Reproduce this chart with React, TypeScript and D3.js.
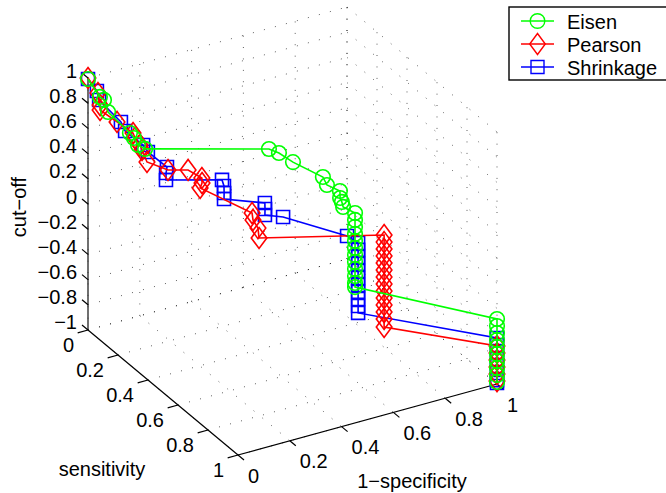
import React from "react";
import * as d3 from "d3";

const width = 666;
const height = 493;
const font = "'Liberation Sans', Arial, sans-serif";

const xTicks = [0, 0.2, 0.4, 0.6, 0.8, 1];
const yTicks = [0, 0.2, 0.4, 0.6, 0.8, 1];
const zTicks = [-1, -0.8, -0.6, -0.4, -0.2, 0, 0.2, 0.4, 0.6, 0.8, 1];
const zLabels = ["\u22121", "\u22120.8", "\u22120.6", "\u22120.4", "\u22120.2", "0", "0.2", "0.4", "0.6", "0.8", "1"];

const eisenX = [0, 0.017, 0.027, 0.031, 0.046, 0.05, 0.054, 0.064, 0.467, 0.494, 0.525, 0.571, 0.575, 0.602, 0.597, 0.598, 0.597,
  0.614, 0.614, 0.614, 0.614, 0.614, 0.614, 0.614, 0.614, 0.614, 0.614, 0.614, 0.614,
  1, 1, 1, 1, 1, 1, 1, 1, 1, 1];
const eisenY = [0, 0.05, 0.06, 0.08, 0.2, 0.22, 0.24, 0.27, 0.4, 0.42, 0.46, 0.58, 0.6, 0.64, 0.65, 0.66, 0.67,
  0.72, 0.72, 0.72, 0.72, 0.72, 0.72, 0.72, 0.72, 0.72, 0.72, 0.72, 0.72,
  1, 1, 1, 1, 1, 1, 1, 1, 1, 1];
const eisenZ = [0.992, 0.89, 0.87, 0.792, 0.736, 0.714, 0.676, 0.669, 0.57, 0.543, 0.493, 0.468, 0.422, 0.399, 0.356, 0.334, 0.305,
  0.297, 0.242, 0.186, 0.131, 0.075, 0.019, -0.037, -0.092, -0.148, -0.204, -0.258, -0.291,
  -0.484, -0.54, -0.596, -0.651, -0.706, -0.762, -0.817, -0.873, -0.929, -0.984];

const pearsonX = [0, 0.021, 0.012, 0.006, 0.031, 0.058, 0.054, 0.062, 0.058, 0.054, 0.112, 0.178, 0.208, 0.197, 0.178, 0.286, 0.278, 0.274, 0.255,
  0.651, 0.651, 0.651, 0.651, 0.651, 0.651, 0.651, 0.651, 0.651, 0.651, 0.651, 0.651, 0.651, 0.651,
  1, 1, 1, 1, 1, 1];
const pearsonY = [0, 0.03, 0.06, 0.07, 0.14, 0.2, 0.22, 0.24, 0.26, 0.3, 0.34, 0.36, 0.4, 0.42, 0.44, 0.6, 0.62, 0.66, 0.7,
  0.85, 0.85, 0.85, 0.85, 0.85, 0.85, 0.85, 0.85, 0.85, 0.85, 0.85, 0.85, 0.85, 0.85,
  1, 1, 1, 1, 1, 1];
const pearsonZ = [1, 0.899, 0.838, 0.812, 0.773, 0.729, 0.712, 0.671, 0.654, 0.601, 0.544, 0.527, 0.486, 0.472, 0.464, 0.362, 0.332, 0.309, 0.281,
  0.23, 0.174, 0.12, 0.064, 0.008, -0.047, -0.103, -0.159, -0.215, -0.27, -0.325, -0.381, -0.436, -0.5,
  -0.698, -0.754, -0.81, -0.865, -0.921, -0.977];

const shrinkX = [0, 0.017, 0.014, 0.046, 0.039, 0.068, 0.069, 0.108, 0.093, 0.081, 0.251, 0.247, 0.236, 0.224, 0.347, 0.336, 0.324, 0.371, 0.537,
  0.568, 0.568, 0.568, 0.568, 0.568, 0.568, 0.568, 0.568, 0.568, 0.568, 0.568,
  1, 1, 1, 1, 1, 1, 1, 1];
const shrinkY = [0, 0.03, 0.05, 0.14, 0.18, 0.25, 0.28, 0.34, 0.36, 0.38, 0.46, 0.48, 0.5, 0.52, 0.58, 0.6, 0.62, 0.66, 0.8,
  0.82, 0.82, 0.82, 0.82, 0.82, 0.82, 0.82, 0.82, 0.82, 0.82, 0.82,
  1, 1, 1, 1, 1, 1, 1, 1];
const shrinkZ = [0.992, 0.917, 0.867, 0.764, 0.736, 0.678, 0.652, 0.57, 0.551, 0.522, 0.506, 0.48, 0.45, 0.429, 0.388, 0.366, 0.345, 0.343, 0.237,
  0.184, 0.129, 0.073, 0.018, -0.038, -0.094, -0.15, -0.204, -0.26, -0.316, -0.371,
  -0.635, -0.69, -0.746, -0.802, -0.857, -0.913, -0.969, -0.992];

// fixed orthographic view: each data axis is a vector on the screen
const origin = [88, 330];
const xPx = d3.scaleLinear().domain([0, 1]).range([0, 259]);
const xPy = d3.scaleLinear().domain([0, 1]).range([0, -71]);
const yPx = d3.scaleLinear().domain([0, 1]).range([0, 150]);
const yPy = d3.scaleLinear().domain([0, 1]).range([0, 125]);
const zPy = d3.scaleLinear().domain([-1, 1]).range([0, -252]);

const project = (x: number, y: number, z: number): [number, number] => [
  origin[0] + xPx(x) + yPx(y),
  origin[1] + xPy(x) + yPy(y) + zPy(z),
];
const seg = (a: [number, number, number], b: [number, number, number]) =>
  d3.line()([project(a[0], a[1], a[2]), project(b[0], b[1], b[2])]) || "";
const f = d3.format(".3~f");

const circle = "M-7.3 0A7.3 7.3 0 1 1 7.3 0A7.3 7.3 0 1 1 -7.3 0Z";
const diamond = "M0 -10.5L7.8 0L0 10.5L-7.8 0Z";
const square = "M-6.5 -6.5H6.5V6.5H-6.5Z";

const series = [
  { name: "Shrinkage", color: "#0000ff", marker: square, xs: shrinkX, ys: shrinkY, zs: shrinkZ },
  { name: "Pearson", color: "#ff0000", marker: diamond, xs: pearsonX, ys: pearsonY, zs: pearsonZ },
  { name: "Eisen", color: "#00ff00", marker: circle, xs: eisenX, ys: eisenY, zs: eisenZ },
];
const legendOrder = ["Eisen", "Pearson", "Shrinkage"];

export default function App() {
  const grid: string[] = [];
  xTicks.forEach((x) => {
    grid.push(seg([x, 0, -1], [x, 1, -1]));
    grid.push(seg([x, 0, -1], [x, 0, 1]));
  });
  yTicks.forEach((y) => {
    grid.push(seg([0, y, -1], [1, y, -1]));
    grid.push(seg([1, y, -1], [1, y, 1]));
  });
  zTicks.forEach((z) => {
    grid.push(seg([0, 0, z], [1, 0, z]));
    grid.push(seg([1, 0, z], [1, 1, z]));
  });

  return (
    <svg width={width} height={height} style={{ position: "absolute", left: 0, top: 0, background: "#fff" }} fontFamily={font} fontSize={20}>
      {grid.map((d, i) => (
        <path key={i} d={d} fill="none" stroke="#000" strokeWidth={0.7} strokeDasharray="0.9 10.5" />
      ))}

      <g fill="none" stroke="#000" strokeWidth={1.2}>
        <path d={seg([0, 0, -1], [0, 0, 1])} stroke="#333" strokeWidth={1.4} />
        <path d={seg([0, 0, -1], [0, 1, -1])} />
        <path d={seg([0, 1, -1], [1, 1, -1])} />
        {xTicks.map((x) => (
          <path key={x} d={seg([x, 1, -1], [x, 1.04, -1])} />
        ))}
        {yTicks.map((y) => (
          <path key={y} d={seg([0, y, -1], [-0.04, y, -1])} />
        ))}
        {zTicks.map((z) => (
          <path key={z} d={seg([0, 0, z], [0, -0.04, z])} />
        ))}
      </g>

      {series.map((s) => {
        const pts = s.xs.map((x, i) => project(x, s.ys[i], s.zs[i]));
        return (
          <g key={s.name} fill="none" stroke={s.color} strokeWidth={1.6}>
            <path d={d3.line()(pts) || ""} />
            {pts.map((p, i) => (
              <path key={i} d={s.marker} transform={`translate(${p[0]},${p[1]})`} />
            ))}
          </g>
        );
      })}

      <g fill="#000">
        {xTicks.map((x) => {
          const p = project(x, 1, -1);
          return (
            <text key={x} x={p[0] + 10} y={p[1] + 20.5} dominantBaseline="central">
              {f(x)}
            </text>
          );
        })}
        {yTicks.map((y) => {
          const p = project(0, y, -1);
          return (
            <text key={y} x={p[0] - 14} y={p[1] + 15} textAnchor="end" dominantBaseline="central">
              {f(y)}
            </text>
          );
        })}
        {zTicks.map((z, i) => {
          const p = project(0, 0, z);
          return (
            <text key={z} x={77} y={p[1] - 8 + (z + 1) * 0.5} textAnchor="end" dominantBaseline="central">
              {zLabels[i]}
            </text>
          );
        })}
        <text x={102} y={469} textAnchor="middle" dominantBaseline="central">sensitivity</text>
        <text x={412} y={481} textAnchor="middle" dominantBaseline="central">1{"\u2212"}specificity</text>
        <text transform="translate(19,207) rotate(-90)" textAnchor="middle" dominantBaseline="central">cut{"\u2212"}off</text>
      </g>

      <rect x={509} y={7} width={160} height={73} fill="#fff" stroke="#000" strokeWidth={1.4} />
      {legendOrder.map((name, i) => {
        const s = series.find((d) => d.name === name)!;
        const ly = 21 + i * 23;
        return (
          <g key={name}>
            <path d={`M521 ${ly}H554`} stroke={s.color} strokeWidth={1.4} />
            <path d={s.marker} transform={`translate(537.5,${ly})`} fill="none" stroke={s.color} strokeWidth={1.4} />
            <text x={567} y={ly + 1} dominantBaseline="central">{name}</text>
          </g>
        );
      })}
    </svg>
  );
}
